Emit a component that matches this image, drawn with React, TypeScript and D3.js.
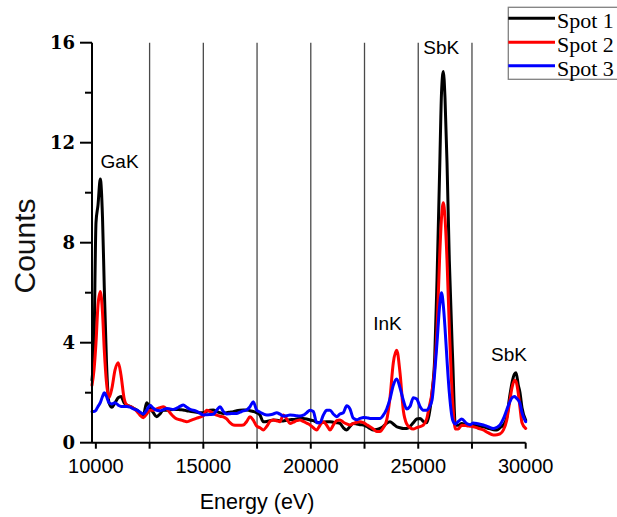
import React from "react";
import * as d3 from "d3";

// Energy grid (eV)
const energy = [
  9820, 9913, 10006, 10099, 10206, 10309, 10392, 10495, 10611, 10751, 10890, 11044, 11170, 11309, 11449, 11588,
  11751, 11914, 12053, 12207, 12365, 12519, 12672, 12830, 12984, 13138, 13296, 13449, 13603, 13761, 13914, 14068,
  14226, 14380, 14533, 14692, 14845, 14999, 15157, 15311, 15464, 15622, 15776, 15929, 16088, 16241, 16395, 16553,
  16706, 16860, 17018, 17172, 17325, 17484, 17637, 17791, 17949, 18102, 18256, 18414, 18568, 18721, 18880, 19033,
  19187, 19345, 19498, 19652, 19810, 19964, 20117, 20275, 20429, 20582, 20741, 20894, 21048, 21206, 21359, 21513,
  21671, 21825, 21978, 22137, 22290, 22444, 22602, 22755, 22909, 23067, 23221, 23374, 23532, 23686, 23840, 23998,
  24151, 24305, 24463, 24617, 24770, 24929, 25082, 25236, 25394, 25501, 25640, 25766, 25873, 25999, 26083, 26166,
  26245, 26339, 26446, 26604, 26725, 26865, 27023, 27255, 27409, 27562, 27781, 28028, 28246, 28493, 28665, 28805,
  28958, 29117, 29247, 29363, 29480, 29549, 29656, 29735, 29828, 30000,
];

const spot1 = [
  2.5, 4.0, 8.8, 9.5, 10.55, 9.0, 6.2, 3.2, 1.6, 1.42, 1.6, 1.8, 1.85, 1.6, 1.5, 1.45,
  1.38, 1.3, 1.2, 1.1, 1.6, 1.4, 1.2, 1.04, 1.15, 1.3, 1.3, 1.32, 1.33, 1.33, 1.32, 1.31,
  1.28, 1.26, 1.24, 1.22, 1.2, 1.2, 1.25, 1.3, 1.31, 1.25, 1.2, 1.17, 1.2, 1.22, 1.24, 1.28,
  1.3, 1.31, 1.31, 1.28, 1.25, 1.2, 1.1, 0.84, 0.85, 0.88, 0.91, 0.9, 0.88, 0.87, 0.9, 0.92,
  0.93, 0.95, 0.97, 0.97, 0.95, 0.91, 0.88, 0.82, 0.8, 0.82, 0.84, 0.84, 0.82, 0.8, 0.77, 0.6,
  0.51, 0.65, 0.77, 0.75, 0.72, 0.71, 0.65, 0.57, 0.51, 0.53, 0.57, 0.65, 0.78, 0.84, 0.75, 0.64,
  0.6, 0.57, 0.57, 0.65, 0.8, 0.95, 0.97, 0.85, 0.8, 1.1, 2.0, 3.4, 6.5, 11.0, 14.0, 14.85,
  13.8, 11.2, 7.3, 3.3, 0.7, 0.7, 0.77, 0.72, 0.7, 0.71, 0.68, 0.64, 0.58, 0.52, 0.51, 0.6,
  0.7, 1.0, 1.8, 2.4, 2.75, 2.8, 2.3, 2.0, 1.4, 0.9,
];

const spot2 = [
  2.3, 2.9, 4.0, 5.5, 6.05, 5.2, 3.7, 2.4, 1.8, 2.2, 2.9, 3.2, 2.7, 1.8, 1.5, 1.45,
  1.38, 1.25, 1.1, 1.0, 1.15, 1.3, 1.3, 1.35, 1.4, 1.44, 1.35, 1.2, 1.05, 0.95, 0.92, 0.88,
  0.84, 0.88, 0.93, 0.98, 1.02, 1.08, 1.3, 1.25, 1.17, 1.1, 1.06, 1.04, 0.95, 0.8, 0.71, 0.7,
  0.7, 0.71, 0.85, 1.04, 0.9, 0.66, 0.6, 0.51, 0.65, 0.85, 0.91, 0.88, 0.84, 1.11, 0.95, 0.77,
  0.82, 0.88, 0.91, 0.85, 0.78, 0.71, 0.6, 0.51, 0.7, 0.84, 0.7, 0.51, 0.7, 0.88, 0.91, 0.82,
  0.75, 0.71, 0.77, 0.82, 0.84, 0.8, 0.72, 0.64, 0.55, 0.45, 0.45, 0.6, 0.9, 1.8, 3.2, 3.7,
  2.8, 1.3, 0.75, 0.6, 0.55, 0.6, 0.64, 0.7, 0.95, 1.4, 2.0, 3.0, 4.5, 7.5, 9.0, 9.6,
  9.0, 7.3, 4.6, 1.6, 0.55, 0.55, 0.7, 0.68, 0.66, 0.64, 0.58, 0.51, 0.4, 0.31, 0.32, 0.35,
  0.5, 0.9, 1.6, 2.2, 2.5, 2.45, 1.97, 1.4, 0.8, 0.57,
];

const spot3 = [
  1.25, 1.25, 1.3, 1.45, 1.6, 1.85, 2.0, 1.85, 1.6, 1.55, 1.6, 1.5, 1.45, 1.45, 1.45, 1.42,
  1.35, 1.3, 1.22, 1.15, 1.3, 1.5, 1.38, 1.3, 1.28, 1.32, 1.37, 1.35, 1.33, 1.38, 1.45, 1.51,
  1.42, 1.33, 1.3, 1.25, 1.18, 1.11, 1.12, 1.13, 1.14, 1.3, 1.44, 1.25, 1.15, 1.16, 1.17, 1.17,
  1.22, 1.27, 1.31, 1.44, 1.64, 1.3, 1.22, 1.15, 1.11, 1.12, 1.15, 1.2, 1.14, 1.07, 1.08, 1.11,
  1.1, 1.08, 1.07, 1.1, 1.2, 1.3, 1.25, 0.8, 0.8, 1.1, 1.3, 1.3, 1.15, 1.04, 1.15, 1.2,
  1.48, 1.35, 0.98, 0.92, 0.97, 1.01, 1.0, 0.97, 0.97, 0.97, 0.97, 1.1, 1.35, 1.75, 2.3, 2.55,
  2.2, 1.7, 1.35, 1.45, 1.8, 1.75, 1.45, 1.3, 1.3, 1.4, 1.7, 2.8, 4.0, 5.5, 6.0, 5.5,
  4.6, 3.3, 2.0, 0.9, 0.75, 0.85, 0.95, 0.77, 0.72, 0.79, 0.76, 0.71, 0.64, 0.57, 0.62, 0.71,
  0.95, 1.31, 1.6, 1.8, 1.85, 1.8, 1.7, 1.57, 1.2, 0.84,
];

const seriesNames = ["Spot 1", "Spot 2", "Spot 3"];
const seriesColors = ["#000000", "#ff0000", "#0000ff"];
const yMajorTicks = [0, 4, 8, 12, 16];
const yMinorTicks = [2, 6, 10, 14];
const xLabelTicks = [10000, 15000, 20000, 25000, 30000];
const xAllTicks = [10000, 12500, 15000, 17500, 20000, 22500, 25000, 27500, 30000];
const gridLines = [12500, 15000, 17500, 20000, 22500, 25000, 27500];
const peakLabels = [
  { text: "GaK", e: 10220, c: 11.0 },
  { text: "SbK", e: 26070, c: 15.55 },
  { text: "InK", e: 23570, c: 4.5 },
  { text: "SbK", e: 29220, c: 3.27 },
];

export default function App() {
  const x = d3.scaleLinear().domain([9820, 30000]).range([92, 525.7]);
  const y = d3.scaleLinear().domain([0, 16]).range([442.7, 42.7]);
  const line = d3
    .line<number>()
    .x((_, i) => x(energy[i]))
    .y((d) => y(d))
    .curve(d3.curveMonotoneX);
  const allSeries = [spot1, spot2, spot3];

  return (
    <svg
      width={617}
      height={517}
      style={{ position: "absolute", left: 0, top: 0, background: "#fff" }}
    >
      <rect x={0} y={0} width={617} height={517} fill="#fff" />
      {/* grid lines */}
      {gridLines.map((g) => (
        <line key={g} x1={x(g)} x2={x(g)} y1={y(16)} y2={y(0)} stroke="#4a4a4a" strokeWidth={1.3} />
      ))}
      {/* data */}
      {allSeries.map((s, i) => (
        <path
          key={i}
          d={line(s) || ""}
          fill="none"
          stroke={seriesColors[i]}
          strokeWidth={3}
          strokeLinejoin="round"
          strokeLinecap="round"
        />
      ))}
      {/* y axis */}
      <line x1={92} x2={92} y1={y(16)} y2={y(0)} stroke="#000" strokeWidth={2} />
      {yMajorTicks.map((t) => (
        <g key={t}>
          <line x1={80} x2={92} y1={y(t)} y2={y(t)} stroke="#000" strokeWidth={2} />
          <text
            x={75}
            y={y(t)}
            dy="0.36em"
            textAnchor="end"
            fontFamily="'DejaVu Serif', serif"
            fontWeight="bold"
            fontSize={18}
            fill="#000"
          >
            {t}
          </text>
        </g>
      ))}
      {yMinorTicks.map((t) => (
        <line key={t} x1={85} x2={92} y1={y(t)} y2={y(t)} stroke="#000" strokeWidth={2} />
      ))}
      {/* x axis */}
      <line x1={92} x2={525.7} y1={y(0)} y2={y(0)} stroke="#000" strokeWidth={2} />
      {xAllTicks.map((t) => (
        <line key={t} x1={x(t)} x2={x(t)} y1={y(0)} y2={y(0) + 6} stroke="#000" strokeWidth={2} />
      ))}
      {xLabelTicks.map((t) => (
        <text
          key={t}
          x={x(t)}
          y={473}
          textAnchor="middle"
          fontFamily="'Liberation Sans', Arial, sans-serif"
          fontSize={20}
          fill="#000"
        >
          {t}
        </text>
      ))}
      <text
        x={257}
        y={509}
        textAnchor="middle"
        fontFamily="'Liberation Sans', Arial, sans-serif"
        fontSize={21.5}
        fill="#000"
      >
        Energy (eV)
      </text>
      <text
        transform={`translate(35,246) rotate(-90)`}
        textAnchor="middle"
        fontFamily="'Liberation Sans', Arial, sans-serif"
        fontSize={30}
        fill="#111"
      >
        Counts
      </text>
      {/* peak labels */}
      {peakLabels.map((p, i) => (
        <text
          key={i}
          x={x(p.e)}
          y={y(p.c)}
          textAnchor={i === 0 ? "start" : "middle"}
          fontFamily="'Liberation Sans', Arial, sans-serif"
          fontSize={19}
          fill="#000"
        >
          {p.text}
        </text>
      ))}
      {/* legend */}
      <rect x={508.3} y={7.3} width={140} height={72} fill="#fff" stroke="#808080" strokeWidth={1.3} />
      {seriesNames.map((n, i) => {
        const ly = [18.3, 42.3, 65.7][i];
        return (
          <g key={n}>
            <line x1={508.3} x2={555} y1={ly} y2={ly} stroke={seriesColors[i]} strokeWidth={3} />
            <text
              x={557}
              y={ly + 10}
              fontFamily="'Liberation Serif', 'Times New Roman', serif"
              fontSize={22}
              fill="#000"
            >
              {n}
            </text>
          </g>
        );
      })}
    </svg>
  );
}
